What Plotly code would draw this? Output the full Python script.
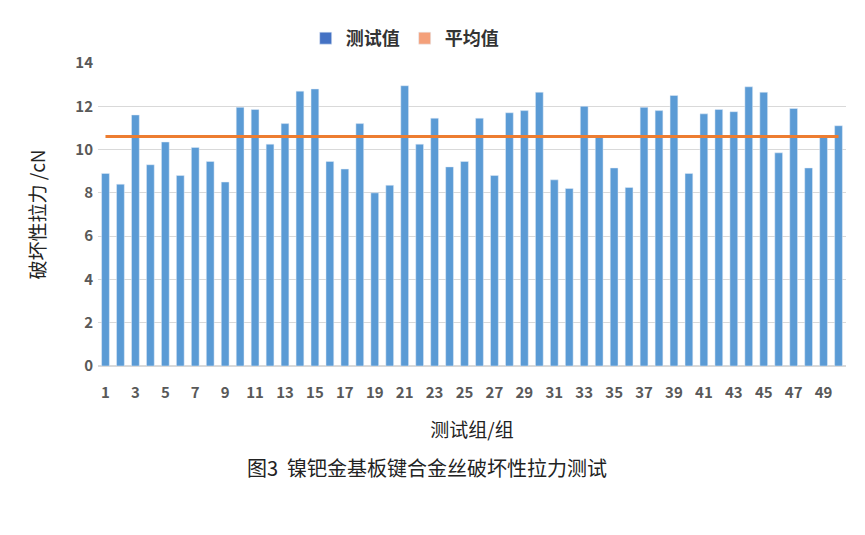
import plotly.graph_objects as go

# 测试组编号与破坏性拉力 (cN)
groups = list(range(1, 51))
pull_force = [8.9, 8.4, 11.6, 9.3, 10.35, 8.8, 10.1, 9.45, 8.5, 11.95,
              11.85, 10.25, 11.2, 12.7, 12.8, 9.45, 9.1, 11.2, 8.0, 8.35,
              12.95, 10.25, 11.45, 9.2, 9.45, 11.45, 8.8, 11.7, 11.8, 12.65,
              8.6, 8.2, 12.0, 10.6, 9.15, 8.25, 11.95, 11.8, 12.5, 8.9,
              11.65, 11.85, 11.75, 12.9, 12.65, 9.85, 11.9, 9.15, 10.6, 11.1]
mean_force = [10.6] * 50
tick_groups = list(range(1, 50, 2))

font_cn = "Noto Sans CJK SC"

fig = go.Figure()
fig.add_trace(go.Bar(x=groups, y=pull_force, name="测试值",
                     marker_color="#5B9BD5", showlegend=False))
fig.add_trace(go.Scatter(x=groups, y=mean_force, name="平均值", mode="lines",
                         line=dict(color="#ED7D31", width=3), showlegend=False))
# 图例色块
fig.add_trace(go.Bar(x=[None], y=[None], name="测试值", marker_color="#4472C4"))
fig.add_trace(go.Bar(x=[None], y=[None], name="平均值", marker_color="#F4A07A"))

fig.update_layout(
    width=865, height=535,
    margin=dict(l=90, r=27, t=55, b=177),
    plot_bgcolor="white", paper_bgcolor="white",
    bargap=0.48,
    font=dict(family=font_cn, color="#404040"),
    legend=dict(orientation="h", x=0.41, xanchor="center", y=1.02, yanchor="bottom",
                font=dict(size=18, color="#333333", weight="bold"), itemwidth=30),
    xaxis=dict(range=[0.5, 50.5], tickmode="array", tickvals=tick_groups,
               tickfont=dict(size=15, color="#595959", weight="bold"), showgrid=False,
               showline=False, zeroline=False, ticks="", ticklabelstandoff=16,
               title=dict(text="测试组/组", font=dict(size=19, color="#222222"), standoff=22)),
    yaxis=dict(range=[0, 14], dtick=2, tickfont=dict(size=15, color="#595959", weight="bold"),
               gridcolor="#D9D9D9", zeroline=True, zerolinecolor="#D9D9D9",
               showline=False, ticks="", ticklabelstandoff=4,
               title=dict(text="破坏性拉力 /cN", font=dict(size=19, color="#222222"), standoff=24)),
)
fig.add_annotation(x=0.44, y=-0.335, xref="paper", yref="paper",
                   text="图3  镍钯金基板键合金丝破坏性拉力测试",
                   showarrow=False, font=dict(size=20, color="#222222", family=font_cn),
                   xanchor="center", yanchor="middle")

fig.write_html("out.html")
